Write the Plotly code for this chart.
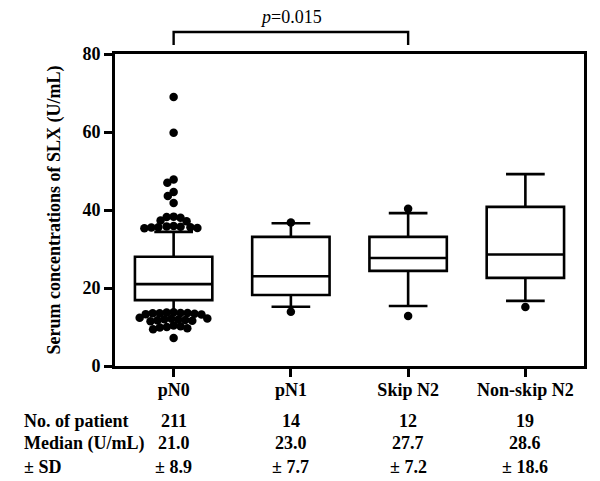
import plotly.graph_objects as go

# ---------------- data ----------------
categories = ["pN0", "pN1", "Skip N2", "Non-skip N2"]
q1 = [16.9, 18.2, 24.4, 22.6]
medians_box = [21.0, 23.0, 27.7, 28.6]
q3 = [28.0, 33.1, 33.1, 40.8]
lower_whisker = [13.6, 15.2, 15.4, 16.7]
upper_whisker = [34.4, 36.6, 39.2, 49.2]

# points outside the whiskers
outliers_pN0 = [69.0, 59.8, 47.8, 47.0, 44.6, 43.6, 41.8,
                38.3, 38.2, 38.0, 37.3, 37.1,
                35.9, 35.8, 35.7, 35.6, 35.6, 35.5, 35.4, 35.3,
                13.8, 13.7, 13.6, 13.6, 13.5, 13.5, 13.4, 13.3, 13.2,
                12.4, 12.2, 12.1, 12.0, 11.9, 11.8, 11.7, 11.6, 11.5,
                10.4, 10.2, 10.0, 9.9, 9.7, 9.4, 7.2]
outliers_pN1 = [36.8, 13.9]
outliers_skip = [40.3, 12.8]
outliers_nonskip = [15.1]
outliers = [outliers_pN0, outliers_pN1, outliers_skip, outliers_nonskip]

row_labels = ["No. of patient", "Median (U/mL)", "\u00b1 SD"]
n_patients = ["211", "14", "12", "19"]
median_text = ["21.0", "23.0", "27.7", "28.6"]
sd_text = ["\u00b1 8.9", "\u00b1 7.7", "\u00b1 7.2", "\u00b1 18.6"]
p_text = "<i>p</i>=0.015"
y_title = "Serum concentrations of SLX (U/mL)"

# ---------------- layout geometry ----------------
OFF = 8  # page body margin
W, H = 600 - OFF, 481 - OFF
ML, MR, MT, MB = 115 - OFF, 16, 54 - OFF, 115
plot_w = W - ML - MR
plot_h = H - MT - MB
x_range = [-0.5, 3.5]
y_range = [0, 80]
px_per_x = plot_w / (x_range[1] - x_range[0])
px_per_y = plot_h / (y_range[1] - y_range[0])

FONT = "Liberation Serif, Times New Roman, serif"


def swarm(vals, d):
    """Beeswarm offsets (pixels) for values (pixels)."""
    placed = []
    offs = []
    for v in vals:
        cands = [0.0]
        for (px, py) in placed:
            dy = abs(v - py)
            if dy < d:
                dx = (d * d - dy * dy) ** 0.5
                cands += [px - dx, px + dx]
        cands.sort(key=lambda c: (abs(c), c))
        chosen = 0.0
        for c in cands:
            if all((c - px) ** 2 + (v - py) ** 2 >= d * d - 1e-6 for px, py in placed):
                chosen = c
                break
        placed.append((chosen, v))
        offs.append(chosen)
    return offs


def page_y_to_paper(ypx):
    return (plot_h - (ypx - OFF - MT)) / plot_h


fig = go.Figure()

xs = list(range(len(categories)))
fig.add_trace(go.Box(
    x=xs, q1=q1, median=medians_box, q3=q3,
    lowerfence=lower_whisker, upperfence=upper_whisker,
    boxpoints=False, width=0.66, whiskerwidth=0.5,
    line=dict(color="black", width=2.6), fillcolor="white",
    showlegend=False,
))

pts_x, pts_y = [], []
for i, vals in enumerate(outliers):
    offs = swarm([v * px_per_y for v in vals], 7.0)
    for v, o in zip(vals, offs):
        pts_x.append(i + o / px_per_x)
        pts_y.append(v)

fig.add_trace(go.Scatter(
    x=pts_x, y=pts_y, mode="markers",
    marker=dict(color="black", size=8.5, line=dict(width=0)),
    showlegend=False,
))

fig.update_xaxes(
    range=x_range, tickmode="array", tickvals=xs, ticktext=categories,
    showline=True, linecolor="black", linewidth=2.6, mirror=True,
    ticks="outside", ticklen=8, tickwidth=2.6, tickcolor="black",
    tickfont=dict(family=FONT, size=18, color="black", weight="bold"),
    showgrid=False, zeroline=False, ticklabelstandoff=-2,
)
fig.update_yaxes(
    range=y_range, tickvals=[0, 20, 40, 60, 80],
    showline=True, linecolor="black", linewidth=2.6, mirror=True,
    ticks="outside", ticklen=8, tickwidth=2.6, tickcolor="black",
    tickfont=dict(family=FONT, size=18, color="black", weight="bold"),
    showgrid=False, zeroline=False,
    title=dict(text=y_title, font=dict(family=FONT, size=18, color="black", weight="bold"),
               standoff=18),
)

# significance bracket between pN0 and Skip N2
y_bar = page_y_to_paper(32)
y_foot = page_y_to_paper(45)
fig.add_shape(type="path", xref="x", yref="paper",
              path=f"M 0 {y_foot} L 0 {y_bar} L 2 {y_bar} L 2 {y_foot}",
              line=dict(color="black", width=2.4))
fig.add_annotation(xref="x", yref="paper", x=1, y=page_y_to_paper(17),
                   text=p_text, showarrow=False, yanchor="middle",
                   font=dict(family=FONT, size=18, color="black"))

# table below the chart
row_y_px = [421, 443, 467]
row_values = [n_patients, median_text, sd_text]
for lab, ypx, vals in zip(row_labels, row_y_px, row_values):
    yp = page_y_to_paper(ypx)
    fig.add_annotation(xref="paper", yref="paper", x=(22 - OFF - ML) / plot_w, y=yp,
                       text=lab, showarrow=False, xanchor="left", yanchor="middle",
                       font=dict(family=FONT, size=18, color="black", weight="bold"))
    for i, t in enumerate(vals):
        fig.add_annotation(xref="x", yref="paper", x=i, y=yp, text=t,
                           showarrow=False, xanchor="center", yanchor="middle",
                           font=dict(family=FONT, size=18, color="black", weight="bold"))

fig.update_layout(
    width=W, height=H,
    margin=dict(l=ML, r=MR, t=MT, b=MB),
    paper_bgcolor="white", plot_bgcolor="white",
    font=dict(family=FONT, color="black"),
)

fig.write_html("out.html")
